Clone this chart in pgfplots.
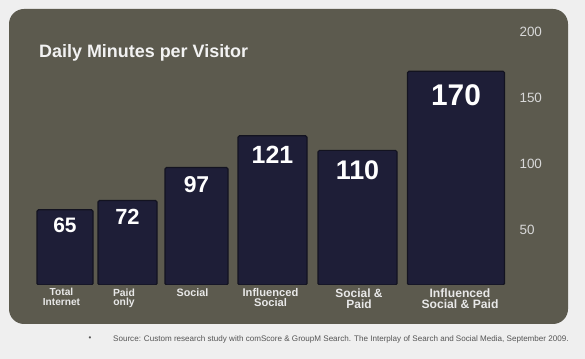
\documentclass[border=0pt]{standalone}
\usepackage{pgfplots}
\pgfplotsset{compat=1.18}
\usepackage{fontspec}
\setmainfont{Liberation Sans}
\definecolor{outerbg}{HTML}{EFEFEF}
\definecolor{panel}{HTML}{5C5A4E}
\definecolor{barnavy}{HTML}{1E1E37}
\definecolor{baredge}{HTML}{131320}
\definecolor{tickcol}{HTML}{D8D8D8}
\definecolor{labcol}{HTML}{E8E8E8}
\definecolor{titlecol}{HTML}{F2F2F2}
\definecolor{srccol}{HTML}{555555}
\newcommand\fs[1]{\fontsize{#1}{#1}\selectfont\bfseries}
\begin{document}
\begin{tikzpicture}
\fill[outerbg] (0bp,0bp) rectangle (585bp,359bp);
\fill[panel, rounded corners=15bp] (9bp,35bp) rectangle (568bp,350bp);
\node[anchor=base west, inner sep=0pt, text=titlecol, font=\fontsize{18}{20}\selectfont\bfseries] at (39bp,301bp) {Daily Minutes per Visitor};
\begin{axis}[
  at={(0bp,74bp)}, anchor=south west,
  scale only axis, width=515bp, height=253.44bp,
  xmin=0, xmax=515, ymin=8, ymax=200,
  axis line style={draw=none}, tick style={draw=none},
  /pgf/number format/assume math mode=true,
  ytick={50,100,150,200},
  yticklabel pos=right,
  yticklabel style={anchor=west, xshift=1bp, text=tickcol, font=\fontsize{13.5}{14}\selectfont},
  xtick={61.5,124,192.5,270.5,359,460},
  xticklabels={
    {\fs{10.2}Total\\[-0.3pt]\fs{10.2}Internet},
    {\fs{10.4}Paid\\[-0.3pt]\fs{10.4}only},
    {\fs{10.8}Social},
    {\fs{11.2}Influenced\\[0.4pt]\fs{11.2}Social},
    {\fs{12}Social \&\\[1.2pt]\fs{12}Paid},
    {\fs{12.2}Influenced\\[1.4pt]\fs{12.2}Social \& Paid}},
  xticklabel style={align=center, text=labcol, font=\fontsize{10}{10}\selectfont\bfseries, anchor=north, yshift=0bp},
  every node near coord/.append style={text=white, anchor=north, inner sep=0pt, font=\bfseries},
]
\addplot[ybar, bar shift=0pt, bar width=56, fill=barnavy, draw=baredge, line width=1.2pt, rounded corners=1.5pt,
  nodes near coords, nodes near coords style={yshift=-8bp, font=\fontsize{21}{21}\selectfont\bfseries}]
  coordinates {(65,65)};
\addplot[ybar, bar shift=0pt, bar width=59, fill=barnavy, draw=baredge, line width=1.2pt, rounded corners=1.5pt,
  nodes near coords, nodes near coords style={yshift=-8bp, font=\fontsize{22}{22}\selectfont\bfseries}]
  coordinates {(127.5,72)};
\addplot[ybar, bar shift=0pt, bar width=63, fill=barnavy, draw=baredge, line width=1.2pt, rounded corners=1.5pt,
  nodes near coords, nodes near coords style={yshift=-8bp, font=\fontsize{23}{23}\selectfont\bfseries}]
  coordinates {(196.5,97)};
\addplot[ybar, bar shift=0pt, bar width=69, fill=barnavy, draw=baredge, line width=1.2pt, rounded corners=1.5pt,
  nodes near coords, nodes near coords style={yshift=-10bp, font=\fontsize{25}{25}\selectfont\bfseries}]
  coordinates {(272.5,121)};
\addplot[ybar, bar shift=0pt, bar width=79, fill=barnavy, draw=baredge, line width=1.2pt, rounded corners=1.5pt,
  nodes near coords, nodes near coords style={yshift=-10bp, font=\fontsize{27}{27}\selectfont\bfseries}]
  coordinates {(357.5,110)};
\addplot[ybar, bar shift=0pt, bar width=97, fill=barnavy, draw=baredge, line width=1.2pt, rounded corners=1.5pt,
  nodes near coords, nodes near coords style={yshift=-13bp, font=\fontsize{30}{30}\selectfont\bfseries}]
  coordinates {(456,170)};
\end{axis}
\node[anchor=base, inner sep=0pt, text=srccol, font=\fontsize{8}{8}\selectfont] at (90bp,18.5bp) {•};
\node[anchor=base west, inner sep=0pt, text=srccol, font=\fontsize{8.1}{8}\selectfont] at (113bp,18bp) {Source: Custom research study with comScore \& GroupM Search. The Interplay of Search and Social Media, September 2009.};
\pgfresetboundingbox
\useasboundingbox (0bp,0bp) rectangle (585bp,359bp);
\end{tikzpicture}
\end{document}
